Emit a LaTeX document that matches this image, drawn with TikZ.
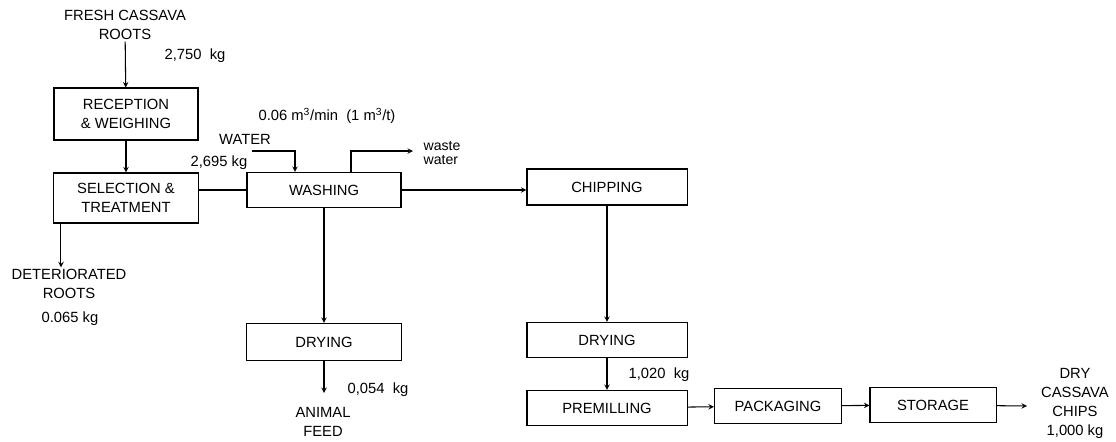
\documentclass[tikz,border=0pt]{standalone}
\usepackage{fontspec}
\setmainfont{Liberation Sans}

\begin{document}
\begin{tikzpicture}[x=0.025cm,y=-0.025cm,>=stealth,line width=0.75pt,
        every node/.style={font=\fontsize{10.5}{13.5}\selectfont},
        box/.style={draw,rectangle,minimum height=0.875cm,align=center},
        lbl/.style={align=center,inner sep=1pt}]
        \useasboundingbox (0,0) rectangle (1116,441);
        % process boxes
        \node (recep) [box, minimum width=3.6cm, minimum height=1.3cm] at (126,114) {RECEPTION\\\& WEIGHING};
        \node (select) [box, minimum width=3.625cm, minimum height=1.25cm] at (126,198) {SELECTION \&\\TREATMENT};
        \node (wash) [box, minimum width=3.85cm] at (324,190) {WASHING};
        \node (chip) [box, minimum width=4cm, minimum height=0.9cm] at (607,187) {CHIPPING};
        \node (dryfeed) [box, minimum width=3.875cm, minimum height=0.925cm] at (324,342) {DRYING};
        \node (drychip) [box, minimum width=4cm] at (607,340) {DRYING};
        \node (premill) [box, minimum width=4cm] at (607,408) {PREMILLING};
        \node (pack) [box, minimum width=3.175cm] at (778,406) {PACKAGING};
        \node (store) [box, minimum width=3.15cm] at (933,405) {STORAGE};

        % inputs and outputs
        \node (fresh) [lbl] at (125,25) {FRESH CASSAVA\\ROOTS};
        \node (deter) [lbl] at (69,284) {DETERIORATED\\ROOTS};
        \node (feed) [lbl] at (323,422) {ANIMAL\\FEED};
        \node (product) [lbl] at (1075,403) {DRY\\CASSAVA\\CHIPS\\1,000 kg};
        \node (water) [lbl] at (245,139) {WATER};
        \node (waste) [lbl, align=left, font=\fontsize{10}{9.5}\selectfont] at (442,153) {waste\\water};

        % quantities
        \node (qfresh) [lbl] at (195,56) {2,750\ \ kg};
        \node (qflow) [lbl] at (327,116) {0.06 m\textsuperscript{3}/min\ \ (1\ m\textsuperscript{3}/t)};
        \node (qwater) [lbl] at (219,163) {2,695 kg};
        \node (qdeter) [lbl] at (70,319) {0.065 kg};
        \node (qfeed) [lbl] at (378,390) {0,054\ \ kg};
        \node (qdry) [lbl] at (659,375) {1,020\ \ kg};

        \coordinate (win) at (295,151);
        \coordinate (wup) at (351,151);
        \coordinate (feedin) at (324,393);
        \coordinate (prodin) at (1027,406);

        \draw[->] (fresh) -- (recep);
        \draw[->] (recep) -- (select);
        \draw (wash.west -| select.east) -- (wash.west);
        \draw[->] (252,151) -- (win) -- (win |- wash.north);
        \draw[->] (wup |- wash.north) -- (wup) -- (413,151);
        \draw[->] (wash.east) -- (wash.east -| chip.west);
        \draw[->] (wash) -- (dryfeed);
        \draw[->] (dryfeed) -- (feedin);
        \draw[->] ([xshift=0.2cm]select.south west) -- ([xshift=0.2cm]select.south west |- deter.north);
        \draw[->] (chip) -- (drychip);
        \draw[->] (drychip) -- (premill);
        \draw[->] (premill) -- (pack);
        \draw[->] (pack) -- (store);
        \draw[->] (store) -- (prodin);
\end{tikzpicture}
\end{document}
